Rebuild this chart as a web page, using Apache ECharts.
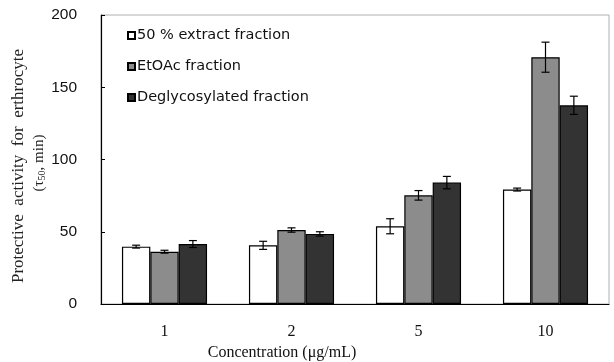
<!doctype html>
<html>
<head>
<meta charset="UTF-8">
<title>Protective activity</title>
<script src="https://cdn.jsdelivr.net/npm/echarts@6/dist/echarts.min.js"></script>
<style>
  html, body { margin: 0; padding: 0; background: #fff; }
  #chart { width: 614px; height: 362px; }
</style>
</head>
<body>
<div id="chart"></div>
<script>
// data
var concentrations = ['1', '2', '5', '10'];
var seriesNames = ['50 % extract fraction', 'EtOAc fraction', 'Deglycosylated fraction'];
var extractVals = [39.7, 40.6, 53.8, 79.2];
var extractErr = [1, 2.8, 5.2, 1];
var etoacVals = [36.2, 51.2, 75.2, 170.8];
var etoacErr = [1, 1.5, 3.3, 10.4];
var deglyVals = [41.5, 48.5, 84, 137.5];
var deglyErr = [2.4, 1.5, 4.3, 6.3];
var yTicks = [0, 50, 100, 150, 200];

var colors = ['#ffffff', '#8c8c8c', '#333333'];
var allVals = [extractVals, etoacVals, deglyVals];
var allErr = [extractErr, etoacErr, deglyErr];

var chart = echarts.init(document.getElementById('chart'));

var catGap = 0.33;

function errorSeries(idx) {
  var data = [];
  for (var i = 0; i < concentrations.length; i++) {
    data.push([i, allVals[idx][i] - allErr[idx][i], allVals[idx][i] + allErr[idx][i]]);
  }
  return {
    type: 'custom',
    name: seriesNames[idx] + ' err',
    z: 10,
    silent: true,
    data: data,
    renderItem: function (params, api) {
      var band = api.size([1, 0])[0];
      var barW = band * (1 - catGap) / 3;
      var off = (idx - 1) * barW;
      var lo = api.coord([api.value(0), api.value(1)]);
      var hi = api.coord([api.value(0), api.value(2)]);
      var x = lo[0] + off;
      var cap = 4;
      var st = { stroke: '#000', lineWidth: 1.2 };
      return {
        type: 'group',
        children: [
          { type: 'line', shape: { x1: x, y1: lo[1], x2: x, y2: hi[1] }, style: st },
          { type: 'line', shape: { x1: x - cap, y1: lo[1], x2: x + cap, y2: lo[1] }, style: st },
          { type: 'line', shape: { x1: x - cap, y1: hi[1], x2: x + cap, y2: hi[1] }, style: st }
        ]
      };
    }
  };
}

var series = [];
for (var s = 0; s < 3; s++) {
  series.push({
    type: 'bar',
    name: seriesNames[s],
    data: allVals[s],
    barGap: 0,
    barCategoryGap: (catGap * 100) + '%',
    itemStyle: { color: colors[s], borderColor: '#000', borderWidth: 1.2 }
  });
}
for (var e = 0; e < 3; e++) series.push(errorSeries(e));

var option = {
  animation: false,
  grid: {
    left: 101, right: 5, top: 15, bottom: 58,
    outerBoundsMode: 'none',
    containLabel: false,
    show: true, borderColor: '#b0b0b0', borderWidth: 1
  },
  legend: {
    data: seriesNames,
    orient: 'vertical',
    left: 122, top: 22,
    itemWidth: 7, itemHeight: 7, itemGap: 14,
    icon: 'rect',
    textStyle: { fontFamily: 'DejaVu Sans, sans-serif', fontSize: 14.5, color: '#111', padding: [0, 0, 0, -3], lineHeight: 17 }
  },
  xAxis: {
    type: 'category',
    data: concentrations,
    axisLine: { lineStyle: { color: '#000', width: 1.2 } },
    axisTick: { inside: true, length: 5, lineStyle: { color: '#000' } },
    axisLabel: { fontFamily: 'Liberation Serif, Times New Roman, serif', fontSize: 16, color: '#111', margin: 20 },
    name: 'Concentration (μg/mL)',
    nameLocation: 'middle',
    nameGap: 41,
    nameTextStyle: { fontFamily: 'Liberation Serif, Times New Roman, serif', fontSize: 16, color: '#111', padding: [0, 146, 0, 0] }
  },
  yAxis: {
    type: 'value',
    min: 0, max: 200, interval: 50,
    axisLine: { show: true, lineStyle: { color: '#000', width: 1.2 } },
    axisTick: { show: true, inside: true, length: 4, lineStyle: { color: '#000' } },
    splitLine: { show: false },
    axisLabel: {
      fontFamily: 'Liberation Sans, Arial, sans-serif', fontSize: 15.5, color: '#111', margin: 24,
      formatter: function (v) { return yTicks.indexOf(v) >= 0 ? String(v) : ''; }
    }
  },
  graphic: [
    {
      type: 'text', x: 19, y: 166, rotation: Math.PI / 2,
      style: {
        text: 'Protective  activity  for  erthrocyte',
        font: '17px "Liberation Serif", serif',
        fill: '#222', align: 'center', verticalAlign: 'middle'
      }
    },
    {
      type: 'text', x: 39, y: 163, rotation: Math.PI / 2,
      style: {
        text: '(τ{sub|50}, min)',
        font: '15px "Liberation Serif", serif',
        fill: '#222', align: 'center', verticalAlign: 'middle',
        rich: { sub: { fontSize: 10, fontFamily: 'Liberation Serif', verticalAlign: 'bottom', padding: [6, 0, 0, 0] } }
      }
    }
  ],
  series: series
};

chart.setOption(option);
</script>
</body>
</html>
